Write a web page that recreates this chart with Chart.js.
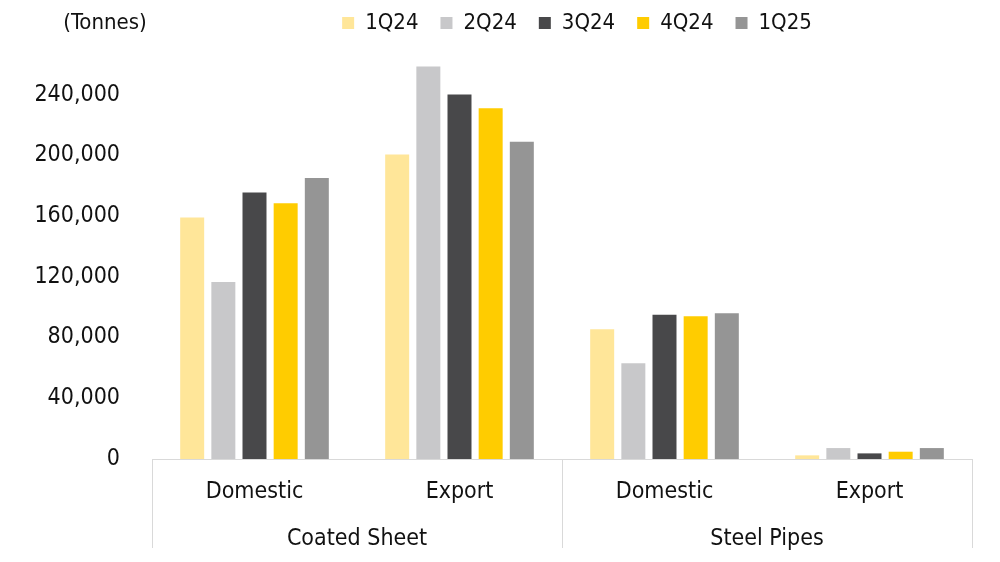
<!DOCTYPE html>
<html>
<head>
<meta charset="utf-8">
<script src="https://cdn.jsdelivr.net/npm/chart.js@4"></script>
<style>
  html, body { margin: 0; padding: 0; background: #fff; }
  #wrap { width: 1000px; height: 562px; }
</style>
</head>
<body>
<div id="wrap"><canvas id="chart"></canvas></div>
<script>
const categories = ['Domestic', 'Export', 'Domestic', 'Export'];
const groups = ['Coated Sheet', 'Steel Pipes'];
const quarters = ['1Q24', '2Q24', '3Q24', '4Q24', '1Q25'];

// tonnes
const q1_24 = [159000, 200500, 85500, 2400];
const q2_24 = [116500, 258500, 63000, 7200];
const q3_24 = [175500, 240000, 95000, 3700];
const q4_24 = [168500, 231000, 94000, 4800];
const q1_25 = [185000, 209000, 96000, 7200];

const yTicks = [0, 40000, 80000, 120000, 160000, 200000, 240000];
const colors = ['#FFE699', '#C8C8CA', '#48484A', '#FFCC00', '#959595'];

const FONT = '"DejaVu Sans Condensed", "DejaVu Sans", sans-serif';

// group labels + separators under the category labels
const groupPlugin = {
    id: 'groups',
    afterDraw(chart) {
        const { ctx, chartArea, scales: { x } } = chart;
        const top = x.top;
        const mid = (x.getPixelForTick(1) + x.getPixelForTick(2)) / 2;
        const edges = [chartArea.left, mid, chartArea.right];
        ctx.save();
        ctx.strokeStyle = '#d9d9d9';
        ctx.lineWidth = 1;
        edges.forEach(px => {
            const xx = Math.round(px) + 0.5;
            ctx.beginPath();
            ctx.moveTo(xx, top);
            ctx.lineTo(xx, top + 89);
            ctx.stroke();
        });
        ctx.fillStyle = '#111';
        ctx.font = '23px ' + FONT;
        ctx.textAlign = 'center';
        ctx.textBaseline = 'middle';
        groups.forEach((g, i) => ctx.fillText(g, (edges[i] + edges[i + 1]) / 2, top + 80));
        // unit label
        ctx.font = '22px ' + FONT;
        ctx.fillText('(Tonnes)', 105, 23);
        ctx.restore();
    }
};

// move the legend up and right so it sits over the bars
const legendShift = {
    id: 'legendShift',
    afterLayout(chart) {
        const lg = chart.legend;
        if (lg) {
            lg.left += 76;
            lg.right += 76;
            lg.top -= 19;
            lg.bottom -= 19;
        }
    }
};

const series = [q1_24, q2_24, q3_24, q4_24, q1_25];

new Chart(document.getElementById('chart'), {
    type: 'bar',
    data: {
        labels: categories,
        datasets: quarters.map((q, i) => ({
            label: q,
            data: series[i],
            backgroundColor: colors[i],
            borderWidth: 0,
            categoryPercentage: 0.76,
            barPercentage: 0.77
        }))
    },
    options: {
        responsive: true,
        maintainAspectRatio: false,
        animation: false,
        layout: { padding: { left: 30, right: 28, top: 9, bottom: 0 } },
        plugins: {
            legend: {
                position: 'top',
                labels: {
                    boxWidth: 12,
                    boxHeight: 12,
                    padding: 22,
                    color: '#111',
                    font: { family: FONT, size: 22 }
                }
            },
            tooltip: { enabled: false }
        },
        scales: {
            x: {
                grid: { display: false, drawTicks: false },
                border: { display: true, color: '#d9d9d9' },
                ticks: { color: '#111', padding: 19, font: { family: FONT, size: 23 } },
                afterFit(scale) { scale.height = 103; }
            },
            y: {
                min: 0,
                max: 260800,
                grid: { display: false, drawTicks: false },
                border: { display: false },
                afterBuildTicks(scale) { scale.ticks = yTicks.map(v => ({ value: v })); },
                afterFit(scale) { scale.width = 122; },
                ticks: {
                    color: '#111',
                    padding: 32,
                    font: { family: FONT, size: 23 },
                    callback: v => v.toLocaleString('en-US')
                }
            }
        }
    },
    plugins: [groupPlugin, legendShift]
});
</script>
</body>
</html>
